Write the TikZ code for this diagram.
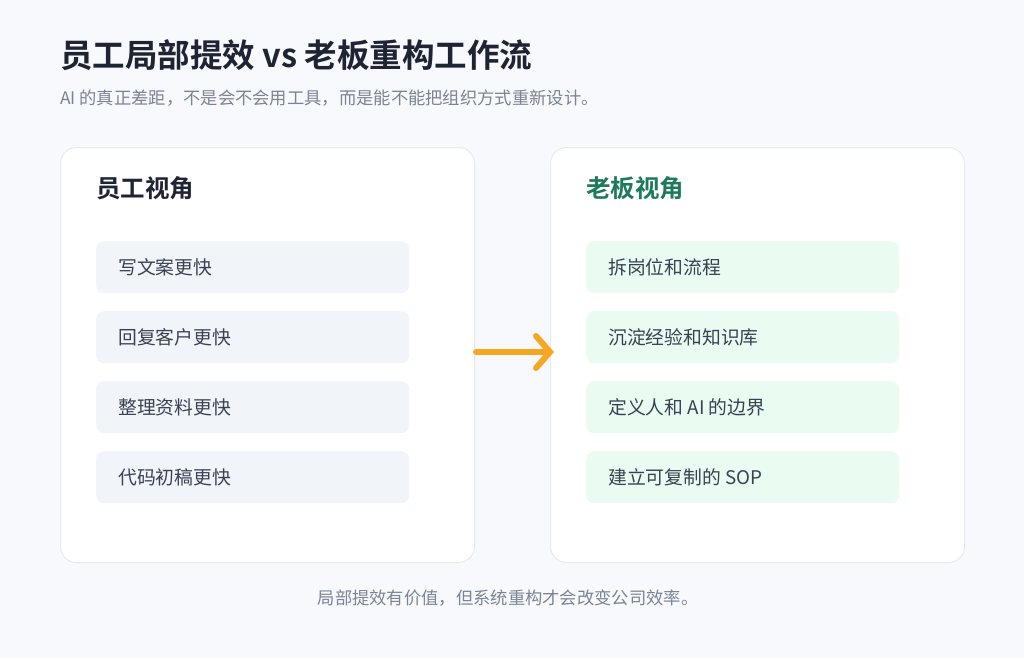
\documentclass[tikz,border=0pt]{standalone}
\usepackage{fontspec}
\setmainfont{Noto Sans CJK SC}
\newfontfamily\boldcjk{Noto Sans CJK SC Bold}
\usetikzlibrary{arrows.meta}
\definecolor{bg}{HTML}{F7F9FC}
\definecolor{cardline}{HTML}{E6EBF1}
\definecolor{itemgray}{HTML}{F1F4F8}
\definecolor{itemgreen}{HTML}{EAFBF1}
\definecolor{titlec}{HTML}{1E2433}
\definecolor{subc}{HTML}{7A8494}
\definecolor{greenh}{HTML}{1F7A5C}
\definecolor{itemtext}{HTML}{3A4252}
\definecolor{orangec}{HTML}{F5A623}
\tikzset{
 card/.style={draw=cardline,line width=1pt,fill=white,rounded corners=16pt,minimum width=414pt,minimum height=415pt,anchor=north west},
 itembox/.style={rounded corners=8pt,minimum width=313pt,minimum height=52pt,anchor=north west,inner sep=0pt},
 itemlabel/.style={anchor=west,text=itemtext,font=\fontsize{18.8pt}{22pt}\selectfont},
 head/.style={anchor=west,font=\boldcjk\fontsize{24.5pt}{28pt}\selectfont}
}
\begin{document}
\begin{tikzpicture}[x=1pt,y=-1pt]
\fill[bg] (0,0) rectangle (1024,658);
\useasboundingbox (0,0) rectangle (1024,658);
\node[anchor=west,text=titlec,font=\boldcjk\fontsize{32.5pt}{36pt}\selectfont,inner sep=0pt] (title) at (60,55) {员工局部提效 vs 老板重构工作流};
\node[anchor=west,text=subc,font=\fontsize{17.3pt}{20pt}\selectfont,inner sep=0pt] (sub) at (60,98) {AI 的真正差距，不是会不会用工具，而是能不能把组织方式重新设计。};
\node[card] (lc) at (60,147) {};
\node[card] (rc) at (550,147) {};
\node[head,text=titlec,inner sep=0pt] (lh) at (96,188) {员工视角};
\node[head,text=greenh,inner sep=0pt] (rh) at (586,188) {老板视角};
\foreach \i/\t in {0/写文案更快,1/回复客户更快,2/整理资料更快,3/代码初稿更快}{
 \node[itembox,fill=itemgray] (l\i) at (96,241+70*\i) {};
 \node[itemlabel,inner sep=0pt] at (118,267+70*\i) {\t};
}
\foreach \i/\t in {0/拆岗位和流程,1/沉淀经验和知识库,2/定义人和 AI 的边界,3/建立可复制的 SOP}{
 \node[itembox,fill=itemgreen] (r\i) at (586,241+70*\i) {};
 \node[itemlabel,inner sep=0pt] at (608,267+70*\i) {\t};
}
\coordinate (a1) at (476,352);
\coordinate (a2) at (554,352);
\draw[orangec,line width=6pt,line cap=round,-{Straight Barb[length=14pt,width=32pt,line cap=round]}] (a1) -- (a2);
\node[text=subc,font=\fontsize{17.3pt}{20pt}\selectfont,inner sep=0pt] (foot) at (508,598) {局部提效有价值，但系统重构才会改变公司效率。};
\end{tikzpicture}
\end{document}
